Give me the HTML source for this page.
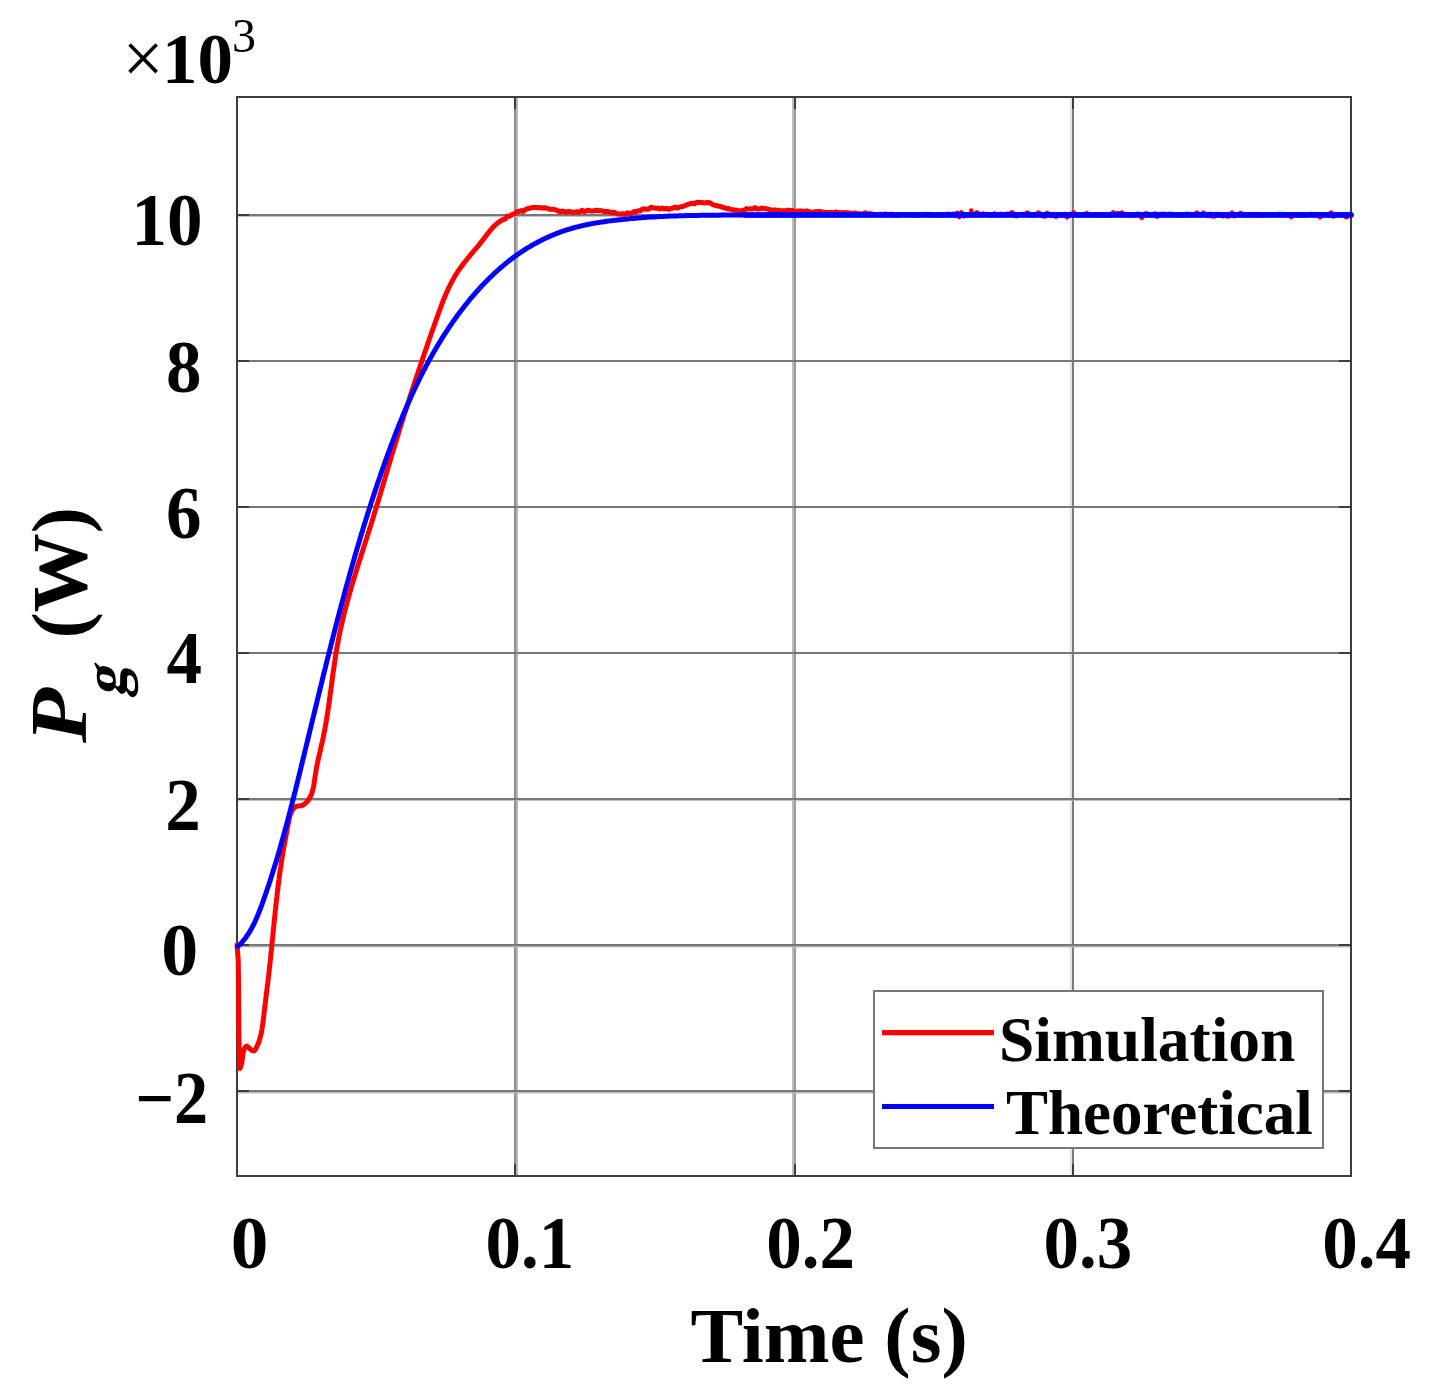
<!DOCTYPE html>
<html><head><meta charset="utf-8"><title>Pg response</title>
<style>
html,body{margin:0;padding:0;background:#fff;}
body{width:1437px;height:1391px;overflow:hidden;}
svg{display:block;}
text{font-family:"Liberation Serif",serif;fill:#000;}
.b{font-weight:bold;}
</style></head><body>
<svg width="1437" height="1391" viewBox="0 0 1437 1391">
<rect width="1437" height="1391" fill="#fff"/>
<!-- grid -->
<g fill="#8e8e8e">
<rect x="514" y="97" width="2" height="1079"/>
<rect x="794" y="97" width="2" height="1079" fill="#9a9a9a"/>
<rect x="1072" y="97" width="2" height="1079" fill="#7c7c7c"/>
</g>
<g fill="#b6b6b6">
<rect x="516" y="97" width="2" height="1079"/>
<rect x="792" y="97" width="2" height="1079" fill="#bcbcbc"/>
<rect x="1070" y="97" width="1.6" height="1079" fill="#dcdcdc"/>
</g>
<g fill="#787878">
<rect x="237" y="214" width="1114" height="2"/>
<rect x="237" y="360" width="1114" height="2"/>
<rect x="237" y="506" width="1114" height="2"/>
<rect x="237" y="652" width="1114" height="2"/>
<rect x="237" y="798" width="1114" height="2"/>
<rect x="237" y="944" width="1114" height="2"/>
<rect x="237" y="1090" width="1114" height="2"/>
</g>
<g fill="#b4b4b4">
<rect x="237" y="216" width="1114" height="0.8"/>
<rect x="237" y="946" width="1114" height="1.4"/>
<rect x="237" y="1092" width="1114" height="1.4"/>
<rect x="237" y="800" width="1114" height="0.8"/>
</g>
<!-- ticks -->
<g stroke="#3c3c3c" stroke-width="2" fill="none">
<path d="M237 215h12M237 361h12M237 507h12M237 653h12M237 799h12M237 945h12M237 1091h12"/>
<path d="M1351 215h-12M1351 361h-12M1351 507h-12M1351 653h-12M1351 799h-12M1351 945h-12M1351 1091h-12"/>
<path d="M515 1176v-12M795 1176v-12M1073 1176v-12M515 97v12M795 97v12M1073 97v12"/>
</g>
<!-- axes box -->
<rect x="237" y="97" width="1114" height="1079" fill="none" stroke="#3c3c3c" stroke-width="2"/>
<!-- data -->
<path d="M237.0 944.7 L238.2 960.0 L238.6 990.0 L238.8 1030.0 L239.3 1055.0 L240.0 1068.5 L240.9 1066.4 L241.5 1064.3 L241.9 1062.2 L242.2 1060.0 L242.4 1057.8 L242.7 1055.6 L243.0 1053.4 L243.5 1051.2 L244.3 1049.0 L245.4 1047.0 L246.7 1046.0 L248.2 1047.0 L250.0 1048.9 L252.1 1050.6 L254.0 1050.9 L255.3 1049.7 L256.4 1047.7 L257.3 1045.6 L258.2 1043.6 L259.0 1041.5 L259.6 1039.4 L260.2 1037.2 L260.8 1035.1 L261.3 1033.0 L261.7 1030.8 L262.1 1028.6 L262.4 1026.5 L262.7 1024.3 L263.0 1022.1 L263.3 1019.9 L263.5 1017.8 L263.8 1015.6 L264.0 1013.4 L264.3 1011.2 L264.6 1009.0 L264.8 1006.8 L265.1 1004.7 L265.4 1002.5 L265.6 1000.3 L265.9 998.1 L266.2 995.9 L266.4 993.8 L266.7 991.6 L267.0 989.4 L267.2 987.2 L267.5 985.0 L267.8 982.8 L268.0 980.7 L268.3 978.5 L268.5 976.3 L268.8 974.1 L269.0 971.9 L269.3 969.7 L269.5 967.6 L269.8 965.4 L270.0 963.2 L270.2 961.0 L270.5 958.8 L270.7 956.6 L270.9 954.5 L271.1 952.3 L271.4 950.1 L271.6 947.9 L271.8 945.7 L272.0 943.5 L272.2 941.3 L272.5 939.1 L272.7 937.0 L272.9 934.8 L273.1 932.6 L273.3 930.4 L273.5 928.2 L273.8 926.0 L274.0 923.8 L274.2 921.6 L274.4 919.5 L274.6 917.3 L274.9 915.1 L275.1 912.9 L275.3 910.7 L275.6 908.5 L275.8 906.3 L276.0 904.2 L276.3 902.0 L276.5 899.8 L276.8 897.6 L277.0 895.4 L277.3 893.2 L277.5 891.0 L277.8 888.9 L278.0 886.7 L278.3 884.5 L278.6 882.3 L278.9 880.1 L279.1 878.0 L279.4 875.8 L279.7 873.6 L280.0 871.4 L280.3 869.3 L280.7 867.1 L281.0 864.9 L281.3 862.7 L281.6 860.6 L282.0 858.4 L282.3 856.2 L282.7 854.0 L283.1 851.9 L283.4 849.7 L283.8 847.5 L284.2 845.4 L284.6 843.2 L285.0 841.0 L285.4 838.9 L285.8 836.7 L286.2 834.6 L286.6 832.4 L287.0 830.2 L287.4 828.1 L287.8 825.9 L288.2 823.8 L288.6 821.6 L289.1 819.5 L289.5 817.4 L290.1 815.2 L290.8 813.1 L291.8 811.1 L293.0 809.1 L294.5 807.4 L296.3 806.3 L298.5 805.9 L300.8 805.7 L302.9 805.1 L304.7 803.9 L306.4 802.4 L307.8 800.8 L309.0 799.0 L310.1 797.1 L311.0 795.2 L311.8 793.2 L312.4 791.1 L313.0 789.0 L313.5 786.8 L313.9 784.6 L314.3 782.4 L314.6 780.1 L314.9 777.9 L315.2 775.6 L315.6 773.4 L315.9 771.2 L316.3 769.0 L316.7 766.8 L317.1 764.6 L317.6 762.5 L318.0 760.3 L318.5 758.2 L319.0 756.1 L319.5 753.9 L320.0 751.8 L320.5 749.7 L320.9 747.6 L321.4 745.5 L321.9 743.4 L322.4 741.3 L322.8 739.2 L323.3 737.0 L323.7 734.9 L324.1 732.8 L324.6 730.6 L325.0 728.5 L325.3 726.4 L325.7 724.2 L326.1 722.1 L326.5 719.9 L326.8 717.7 L327.1 715.6 L327.5 713.4 L327.8 711.3 L328.1 709.1 L328.5 706.9 L328.8 704.7 L329.1 702.6 L329.4 700.4 L329.7 698.2 L330.0 696.0 L330.3 693.8 L330.6 691.6 L330.9 689.5 L331.2 687.3 L331.5 685.1 L331.8 682.9 L332.1 680.7 L332.3 678.5 L332.6 676.3 L332.9 674.1 L333.2 671.9 L333.6 669.8 L333.9 667.6 L334.2 665.4 L334.5 663.2 L334.8 661.0 L335.2 658.8 L335.5 656.6 L335.8 654.5 L336.2 652.3 L336.5 650.1 L336.9 647.9 L337.3 645.8 L337.7 643.6 L338.1 641.4 L338.5 639.3 L338.9 637.1 L339.3 634.9 L339.8 632.8 L340.2 630.6 L340.7 628.5 L341.2 626.3 L341.7 624.2 L342.2 622.1 L342.7 619.9 L343.2 617.8 L343.7 615.7 L344.2 613.5 L344.7 611.4 L345.3 609.3 L345.8 607.2 L346.4 605.0 L347.0 602.9 L347.5 600.8 L348.1 598.7 L348.7 596.6 L349.3 594.5 L349.9 592.3 L350.5 590.2 L351.1 588.1 L351.7 586.0 L352.3 583.9 L353.0 581.8 L353.6 579.7 L354.2 577.6 L354.9 575.5 L355.5 573.4 L356.2 571.3 L356.8 569.2 L357.5 567.1 L358.1 565.0 L358.8 562.9 L359.4 560.8 L360.1 558.7 L360.8 556.6 L361.4 554.5 L362.1 552.5 L362.8 550.4 L363.4 548.3 L364.1 546.2 L364.8 544.1 L365.4 542.0 L366.1 539.9 L366.8 537.8 L367.4 535.7 L368.1 533.6 L368.8 531.5 L369.4 529.4 L370.1 527.3 L370.8 525.2 L371.4 523.1 L372.1 521.0 L372.7 518.9 L373.4 516.8 L374.0 514.7 L374.7 512.6 L375.3 510.5 L376.0 508.4 L376.6 506.3 L377.2 504.2 L377.9 502.1 L378.5 500.0 L379.1 497.9 L379.8 495.8 L380.4 493.7 L381.0 491.6 L381.6 489.5 L382.3 487.4 L382.9 485.3 L383.5 483.2 L384.1 481.1 L384.8 479.0 L385.4 476.9 L386.0 474.7 L386.6 472.6 L387.3 470.5 L387.9 468.4 L388.5 466.3 L389.1 464.2 L389.8 462.1 L390.4 460.0 L391.0 457.9 L391.6 455.8 L392.3 453.7 L392.9 451.6 L393.5 449.5 L394.2 447.4 L394.8 445.3 L395.4 443.1 L396.1 441.0 L396.7 438.9 L397.4 436.8 L398.0 434.7 L398.6 432.6 L399.3 430.5 L399.9 428.4 L400.6 426.3 L401.3 424.2 L401.9 422.1 L402.6 420.0 L403.2 417.9 L403.9 415.9 L404.5 413.8 L405.2 411.7 L405.9 409.6 L406.6 407.5 L407.2 405.4 L407.9 403.3 L408.6 401.2 L409.2 399.1 L409.9 397.0 L410.6 394.9 L411.3 392.8 L412.0 390.7 L412.7 388.7 L413.3 386.6 L414.0 384.5 L414.7 382.4 L415.4 380.3 L416.1 378.2 L416.8 376.1 L417.5 374.0 L418.2 372.0 L418.9 369.9 L419.6 367.8 L420.3 365.7 L421.0 363.6 L421.7 361.5 L422.4 359.5 L423.1 357.4 L423.8 355.3 L424.5 353.2 L425.2 351.1 L426.0 349.1 L426.7 347.0 L427.4 344.9 L428.1 342.8 L428.8 340.8 L429.5 338.7 L430.3 336.6 L431.0 334.5 L431.7 332.4 L432.4 330.4 L433.2 328.3 L433.9 326.2 L434.6 324.2 L435.4 322.1 L436.1 320.0 L436.8 317.9 L437.6 315.9 L438.3 313.8 L439.0 311.7 L439.8 309.7 L440.6 307.6 L441.3 305.6 L442.1 303.5 L442.9 301.5 L443.7 299.4 L444.6 297.4 L445.4 295.4 L446.3 293.4 L447.1 291.4 L448.0 289.4 L449.0 287.4 L449.9 285.5 L450.9 283.5 L451.9 281.6 L453.0 279.7 L454.0 277.8 L455.1 275.9 L456.3 274.0 L457.4 272.2 L458.6 270.4 L459.9 268.6 L461.2 266.8 L462.5 265.0 L463.8 263.2 L465.2 261.5 L466.6 259.8 L468.0 258.0 L469.4 256.3 L470.8 254.6 L472.2 252.9 L473.7 251.2 L475.1 249.5 L476.5 247.8 L478.0 246.1 L479.4 244.4 L480.8 242.6 L482.1 240.9 L483.5 239.1 L484.8 237.4 L486.1 235.6 L487.5 233.9 L488.8 232.2 L490.2 230.5 L491.6 228.9 L493.0 227.3 L494.5 225.8 L496.1 224.3 L497.8 222.9 L499.5 221.7 L501.3 220.5 L503.3 219.3 L505.2 219.2 L507.2 216.1 L509.2 216.4 L511.2 215.0 L513.2 214.1 L515.2 213.3 L517.2 211.6 L519.2 211.5 L521.2 210.5 L523.3 211.6 L525.3 209.6 L527.4 208.8 L529.5 208.3 L531.7 207.7 L533.8 207.3 L536.0 207.4 L538.3 207.7 L540.5 207.5 L542.7 208.1 L545.0 207.8 L547.2 208.2 L549.4 209.3 L551.5 209.2 L553.6 209.3 L555.7 209.9 L557.8 210.7 L559.9 211.8 L562.0 211.1 L564.2 211.4 L566.4 212.1 L568.6 211.4 L570.8 211.7 L573.0 212.3 L575.2 212.1 L577.4 211.8 L579.7 211.9 L581.9 210.2 L584.1 211.8 L586.3 210.8 L588.5 210.3 L590.7 211.0 L592.9 211.1 L595.0 210.5 L597.2 210.2 L599.4 210.7 L601.6 210.7 L603.8 211.5 L605.9 211.5 L608.1 211.6 L610.3 212.4 L612.5 212.3 L614.7 212.5 L616.8 213.6 L619.0 214.0 L621.2 213.9 L623.3 213.8 L625.5 214.2 L627.6 212.7 L629.7 213.8 L631.9 213.2 L634.0 211.6 L636.1 211.8 L638.3 210.7 L640.4 210.8 L642.5 209.0 L644.7 208.9 L646.8 209.2 L648.9 209.0 L651.1 207.2 L653.3 207.8 L655.4 208.2 L657.6 207.9 L659.8 209.1 L662.0 208.0 L664.2 208.9 L666.4 208.3 L668.6 209.3 L670.8 208.5 L673.0 208.1 L675.2 207.1 L677.3 208.1 L679.5 207.2 L681.7 206.6 L683.8 206.2 L686.0 205.3 L688.1 204.3 L690.3 203.7 L692.5 203.2 L694.6 203.8 L696.7 202.2 L698.9 202.4 L701.0 202.4 L703.2 202.7 L705.3 203.0 L707.4 202.5 L709.6 202.7 L711.7 204.0 L713.8 205.1 L716.0 205.5 L718.1 206.0 L720.3 206.4 L722.4 207.3 L724.5 207.7 L726.7 208.8 L728.8 208.6 L731.0 209.5 L733.2 209.7 L735.3 210.2 L737.5 210.2 L739.7 211.2 L741.9 210.6 L744.1 210.4 L746.3 208.6 L748.5 209.1 L750.7 208.7 L752.8 209.0 L755.0 207.6 L757.2 209.1 L759.4 209.1 L761.6 208.1 L763.8 208.4 L766.0 208.7 L768.2 209.3 L770.4 209.8 L772.6 210.6 L774.8 209.8 L777.0 210.4 L779.2 210.2 L781.4 211.1 L783.6 210.7 L785.8 211.1 L788.0 210.1 L790.2 210.6 L792.4 210.5 L794.6 211.6 L796.8 211.3 L799.0 211.0 L801.1 211.0 L803.3 211.5 L805.5 211.1 L807.7 211.1 L809.9 211.8 L812.1 212.8 L814.3 211.7 L816.5 211.7 L818.7 211.5 L820.9 211.5 L823.1 212.4 L825.3 212.6 L827.5 212.4 L829.7 212.6 L831.9 212.6 L834.1 212.7 L836.3 212.0 L838.5 212.6 L840.7 212.9 L842.9 212.6 L845.1 212.8 L847.3 212.7 L849.5 213.0 L851.7 213.6 L853.9 213.1 L856.1 213.3 L858.3 213.8 L860.4 213.8 L862.6 214.4 L864.8 212.7 L867.0 214.1 L869.2 213.6 L871.4 213.9 L873.6 214.3 L875.8 214.5 L878.0 214.5 L880.2 214.2 L882.4 214.9 L884.6 214.1 L886.8 214.2 L889.0 214.7 L891.2 214.1 L893.4 215.4 L895.6 214.9 L897.8 215.5 L900.0 214.5 L902.0 214.5 L904.2 214.8 L906.4 215.0 L908.6 214.4 L910.8 214.9 L913.0 214.7 L915.2 215.4 L917.4 214.4 L919.6 215.2 L921.8 214.4 L924.0 214.3 L926.2 214.4 L928.4 214.2 L930.6 214.8 L932.8 215.2 L935.0 214.8 L937.2 215.0 L939.4 215.4 L941.6 214.8 L943.8 214.8 L946.0 214.6 L948.2 214.0 L950.4 215.0 L952.6 213.9 L954.8 215.0 L957.0 213.1 L959.2 216.8 L961.4 212.7 L963.6 215.9 L965.8 214.9 L968.0 214.4 L970.2 214.6 L972.4 214.7 L974.6 214.6 L976.8 212.6 L979.0 214.3 L981.2 214.6 L983.4 213.7 L985.6 214.6 L987.8 214.2 L990.0 215.2 L992.2 215.3 L994.4 213.8 L996.6 214.8 L998.8 214.6 L1001.0 214.2 L1003.2 214.9 L1005.4 214.5 L1007.6 213.9 L1009.8 214.6 L1012.0 212.6 L1014.2 214.7 L1016.4 216.1 L1018.6 215.0 L1020.8 215.0 L1023.0 214.2 L1025.2 214.4 L1027.4 212.7 L1029.6 214.4 L1031.8 215.5 L1034.0 214.8 L1036.2 214.2 L1038.4 212.7 L1040.6 214.7 L1042.8 215.7 L1045.0 216.2 L1047.2 213.2 L1049.4 214.9 L1051.6 214.7 L1053.8 215.7 L1056.0 216.5 L1058.2 215.0 L1060.4 214.8 L1062.6 215.0 L1064.8 214.2 L1067.0 217.1 L1069.2 214.6 L1071.4 214.7 L1073.6 212.7 L1075.8 214.4 L1078.0 215.0 L1080.2 215.1 L1082.4 215.0 L1084.6 215.2 L1086.8 213.4 L1089.0 214.7 L1091.2 215.1 L1093.4 215.0 L1095.6 214.7 L1097.8 215.0 L1100.0 215.3 L1102.2 214.8 L1104.4 214.5 L1106.6 215.0 L1108.8 215.6 L1111.0 214.6 L1113.2 212.7 L1115.4 214.6 L1117.6 213.3 L1119.8 213.9 L1122.0 212.9 L1124.2 215.2 L1126.4 214.3 L1128.6 215.4 L1130.8 214.9 L1133.0 214.5 L1135.2 214.8 L1137.4 214.0 L1139.6 214.4 L1141.8 217.5 L1144.0 214.3 L1146.2 213.5 L1148.4 214.7 L1150.6 215.1 L1152.8 214.7 L1155.0 213.7 L1157.2 216.4 L1159.4 214.8 L1161.6 214.2 L1163.8 214.1 L1166.0 214.9 L1168.2 214.4 L1170.4 213.9 L1172.6 214.4 L1174.8 215.1 L1177.0 214.5 L1179.2 215.1 L1181.4 215.4 L1183.6 214.7 L1185.8 214.2 L1188.0 214.1 L1190.2 214.7 L1192.4 215.1 L1194.6 214.8 L1196.8 212.9 L1199.0 214.5 L1201.2 214.8 L1203.4 212.9 L1205.6 214.6 L1207.8 215.7 L1210.0 214.0 L1212.2 216.1 L1214.4 216.2 L1216.6 214.3 L1218.8 215.0 L1221.0 214.7 L1223.2 216.0 L1225.4 215.1 L1227.6 216.4 L1229.8 215.1 L1232.0 212.9 L1234.2 216.0 L1236.4 215.2 L1238.6 214.4 L1240.8 213.3 L1243.0 215.1 L1245.2 214.4 L1247.4 215.4 L1249.6 214.4 L1251.8 214.2 L1254.0 215.4 L1256.2 214.2 L1258.4 214.8 L1260.6 215.4 L1262.8 214.8 L1265.0 214.7 L1267.2 214.7 L1269.4 215.1 L1271.6 214.3 L1273.8 215.0 L1276.0 215.0 L1278.2 214.1 L1280.4 214.5 L1282.6 214.3 L1284.8 215.0 L1287.0 214.5 L1289.2 214.8 L1291.4 216.8 L1293.6 215.2 L1295.8 214.4 L1298.0 214.7 L1300.2 215.6 L1302.4 214.3 L1304.6 215.4 L1306.8 214.4 L1309.0 214.4 L1311.2 214.2 L1313.4 215.0 L1315.6 214.8 L1317.8 214.2 L1320.0 217.0 L1322.2 214.8 L1324.4 215.0 L1326.6 214.4 L1328.8 215.5 L1331.0 212.9 L1333.2 216.2 L1335.4 214.5 L1337.6 214.6 L1339.8 215.1 L1342.0 214.6 L1344.2 215.2 L1346.4 217.0 L1348.6 215.3 L1350.8 215.1" fill="none" stroke="#ff0000" stroke-width="5" stroke-linejoin="round" stroke-linecap="round"/>
<circle cx="971.3" cy="210.6" r="2.4" fill="#ff0000"/>
<path d="M237.9 946.3 L239.0 945.3 L240.1 944.2 L241.1 943.2 L242.1 942.1 L243.0 941.0 L244.0 939.8 L244.9 938.7 L245.8 937.5 L246.6 936.3 L247.5 935.1 L248.3 933.9 L249.1 932.7 L249.8 931.4 L250.6 930.2 L251.3 928.9 L252.0 927.6 L252.7 926.3 L253.4 925.0 L254.0 923.7 L254.7 922.3 L255.3 921.0 L255.9 919.6 L256.5 918.3 L257.1 916.9 L257.7 915.5 L258.2 914.1 L258.8 912.8 L259.3 911.4 L259.9 910.0 L260.4 908.6 L260.9 907.2 L261.5 905.7 L262.0 904.3 L262.5 902.9 L263.0 901.5 L263.5 900.1 L264.0 898.7 L264.5 897.3 L265.0 895.8 L265.5 894.4 L266.0 893.0 L266.5 891.6 L266.9 890.2 L267.4 888.7 L267.9 887.3 L268.4 885.9 L268.9 884.5 L269.3 883.0 L269.8 881.6 L270.3 880.2 L270.7 878.8 L271.2 877.3 L271.6 875.9 L272.1 874.5 L272.5 873.1 L273.0 871.6 L273.4 870.2 L273.9 868.8 L274.3 867.3 L274.8 865.9 L275.2 864.5 L275.6 863.0 L276.1 861.6 L276.5 860.2 L276.9 858.7 L277.4 857.3 L277.8 855.9 L278.2 854.4 L278.6 853.0 L279.1 851.6 L279.5 850.1 L279.9 848.7 L280.3 847.2 L280.7 845.8 L281.1 844.4 L281.5 842.9 L281.9 841.5 L282.3 840.0 L282.7 838.6 L283.1 837.2 L283.5 835.7 L283.9 834.3 L284.3 832.8 L284.7 831.4 L285.1 829.9 L285.5 828.5 L285.9 827.0 L286.3 825.6 L286.7 824.2 L287.1 822.7 L287.4 821.3 L287.8 819.8 L288.2 818.4 L288.6 816.9 L289.0 815.5 L289.3 814.0 L289.7 812.6 L290.1 811.1 L290.5 809.7 L290.8 808.2 L291.2 806.8 L291.6 805.3 L292.0 803.9 L292.3 802.4 L292.7 801.0 L293.1 799.5 L293.4 798.1 L293.8 796.6 L294.2 795.2 L294.5 793.7 L294.9 792.3 L295.3 790.8 L295.6 789.4 L296.0 787.9 L296.3 786.5 L296.7 785.0 L297.1 783.5 L297.4 782.1 L297.8 780.6 L298.1 779.2 L298.5 777.7 L298.8 776.3 L299.2 774.8 L299.6 773.4 L299.9 771.9 L300.3 770.5 L300.6 769.0 L301.0 767.6 L301.3 766.1 L301.7 764.6 L302.1 763.2 L302.4 761.7 L302.8 760.3 L303.1 758.8 L303.5 757.4 L303.8 755.9 L304.2 754.5 L304.5 753.0 L304.9 751.5 L305.2 750.1 L305.6 748.6 L305.9 747.2 L306.3 745.7 L306.7 744.3 L307.0 742.8 L307.4 741.4 L307.7 739.9 L308.1 738.4 L308.4 737.0 L308.8 735.5 L309.1 734.1 L309.5 732.6 L309.8 731.2 L310.2 729.7 L310.5 728.3 L310.9 726.8 L311.2 725.3 L311.6 723.9 L311.9 722.4 L312.3 721.0 L312.6 719.5 L313.0 718.1 L313.4 716.6 L313.7 715.2 L314.1 713.7 L314.4 712.2 L314.8 710.8 L315.1 709.3 L315.5 707.9 L315.8 706.4 L316.2 705.0 L316.5 703.5 L316.9 702.1 L317.2 700.6 L317.6 699.1 L318.0 697.7 L318.3 696.2 L318.7 694.8 L319.0 693.3 L319.4 691.9 L319.7 690.4 L320.1 689.0 L320.4 687.5 L320.8 686.0 L321.2 684.6 L321.5 683.1 L321.9 681.7 L322.2 680.2 L322.6 678.8 L322.9 677.3 L323.3 675.9 L323.7 674.4 L324.0 673.0 L324.4 671.5 L324.7 670.0 L325.1 668.6 L325.5 667.1 L325.8 665.7 L326.2 664.2 L326.5 662.8 L326.9 661.3 L327.3 659.9 L327.6 658.4 L328.0 657.0 L328.4 655.5 L328.7 654.1 L329.1 652.6 L329.5 651.2 L329.8 649.7 L330.2 648.3 L330.6 646.8 L330.9 645.3 L331.3 643.9 L331.7 642.4 L332.0 641.0 L332.4 639.5 L332.8 638.1 L333.1 636.6 L333.5 635.2 L333.9 633.7 L334.3 632.3 L334.6 630.8 L335.0 629.4 L335.4 627.9 L335.7 626.5 L336.1 625.0 L336.5 623.6 L336.9 622.1 L337.3 620.7 L337.6 619.2 L338.0 617.8 L338.4 616.3 L338.8 614.9 L339.2 613.4 L339.5 612.0 L339.9 610.5 L340.3 609.1 L340.7 607.7 L341.1 606.2 L341.4 604.8 L341.8 603.3 L342.2 601.9 L342.6 600.4 L343.0 599.0 L343.4 597.5 L343.8 596.1 L344.2 594.6 L344.6 593.2 L344.9 591.7 L345.3 590.3 L345.7 588.9 L346.1 587.4 L346.5 586.0 L346.9 584.5 L347.3 583.1 L347.7 581.6 L348.1 580.2 L348.5 578.8 L348.9 577.3 L349.3 575.9 L349.7 574.4 L350.1 573.0 L350.5 571.5 L350.9 570.1 L351.3 568.7 L351.8 567.2 L352.2 565.8 L352.6 564.3 L353.0 562.9 L353.4 561.5 L353.8 560.0 L354.2 558.6 L354.6 557.1 L355.0 555.7 L355.5 554.3 L355.9 552.8 L356.3 551.4 L356.7 550.0 L357.1 548.5 L357.6 547.1 L358.0 545.6 L358.4 544.2 L358.8 542.8 L359.3 541.3 L359.7 539.9 L360.1 538.5 L360.5 537.0 L361.0 535.6 L361.4 534.2 L361.8 532.7 L362.3 531.3 L362.7 529.9 L363.2 528.4 L363.6 527.0 L364.0 525.6 L364.5 524.2 L364.9 522.7 L365.4 521.3 L365.8 519.9 L366.2 518.4 L366.7 517.0 L367.1 515.6 L367.6 514.1 L368.0 512.7 L368.5 511.3 L368.9 509.9 L369.4 508.4 L369.9 507.0 L370.3 505.6 L370.8 504.2 L371.2 502.7 L371.7 501.3 L372.2 499.9 L372.6 498.5 L373.1 497.0 L373.6 495.6 L374.0 494.2 L374.5 492.8 L375.0 491.4 L375.4 489.9 L375.9 488.5 L376.4 487.1 L376.9 485.7 L377.3 484.3 L377.8 482.8 L378.3 481.4 L378.8 480.0 L379.3 478.6 L379.8 477.2 L380.3 475.7 L380.7 474.3 L381.2 472.9 L381.7 471.5 L382.2 470.1 L382.7 468.7 L383.2 467.3 L383.7 465.8 L384.2 464.4 L384.7 463.0 L385.2 461.6 L385.7 460.2 L386.2 458.8 L386.7 457.4 L387.2 456.0 L387.8 454.5 L388.3 453.1 L388.8 451.7 L389.3 450.3 L389.8 448.9 L390.3 447.5 L390.9 446.1 L391.4 444.7 L391.9 443.3 L392.5 441.9 L393.0 440.5 L393.5 439.1 L394.1 437.7 L394.6 436.3 L395.1 434.9 L395.7 433.5 L396.2 432.1 L396.8 430.7 L397.3 429.3 L397.9 427.9 L398.4 426.5 L399.0 425.1 L399.5 423.7 L400.1 422.3 L400.7 421.0 L401.2 419.6 L401.8 418.2 L402.4 416.8 L402.9 415.4 L403.5 414.0 L404.1 412.7 L404.7 411.3 L405.3 409.9 L405.9 408.5 L406.5 407.1 L407.1 405.8 L407.6 404.4 L408.3 403.0 L408.9 401.7 L409.5 400.3 L410.1 398.9 L410.7 397.6 L411.3 396.2 L411.9 394.8 L412.5 393.5 L413.2 392.1 L413.8 390.8 L414.4 389.4 L415.1 388.0 L415.7 386.7 L416.4 385.3 L417.0 384.0 L417.7 382.6 L418.3 381.3 L419.0 380.0 L419.6 378.6 L420.3 377.3 L421.0 375.9 L421.6 374.6 L422.3 373.3 L423.0 371.9 L423.7 370.6 L424.4 369.3 L425.1 368.0 L425.7 366.6 L426.4 365.3 L427.2 364.0 L427.9 362.7 L428.6 361.4 L429.3 360.1 L430.0 358.8 L430.7 357.5 L431.5 356.2 L432.2 354.9 L432.9 353.6 L433.7 352.3 L434.4 351.0 L435.2 349.7 L435.9 348.4 L436.7 347.1 L437.5 345.8 L438.2 344.5 L439.0 343.2 L439.8 342.0 L440.6 340.7 L441.3 339.4 L442.1 338.2 L442.9 336.9 L443.7 335.6 L444.5 334.4 L445.4 333.1 L446.2 331.9 L447.0 330.6 L447.8 329.4 L448.6 328.1 L449.5 326.9 L450.3 325.6 L451.2 324.4 L452.0 323.2 L452.9 321.9 L453.7 320.7 L454.6 319.5 L455.5 318.3 L456.4 317.0 L457.2 315.8 L458.1 314.6 L459.0 313.4 L459.9 312.2 L460.8 311.0 L461.7 309.8 L462.7 308.6 L463.6 307.4 L464.5 306.2 L465.4 305.0 L466.4 303.9 L467.3 302.7 L468.3 301.5 L469.2 300.3 L470.2 299.2 L471.1 298.0 L472.1 296.9 L473.1 295.7 L474.1 294.6 L475.1 293.4 L476.1 292.3 L477.1 291.2 L478.1 290.1 L479.1 288.9 L480.1 287.8 L481.1 286.7 L482.1 285.6 L483.2 284.5 L484.2 283.4 L485.3 282.4 L486.3 281.3 L487.4 280.2 L488.4 279.1 L489.5 278.1 L490.6 277.0 L491.7 276.0 L492.7 275.0 L493.8 273.9 L494.9 272.9 L496.0 271.9 L497.1 270.9 L498.3 269.9 L499.4 268.9 L500.5 267.9 L501.6 266.9 L502.8 266.0 L503.9 265.0 L505.1 264.1 L506.2 263.1 L507.4 262.2 L508.6 261.2 L509.7 260.3 L510.9 259.4 L512.1 258.5 L513.3 257.6 L514.5 256.7 L515.7 255.9 L516.9 255.0 L518.1 254.1 L519.4 253.3 L520.6 252.4 L521.8 251.6 L523.1 250.8 L524.3 250.0 L525.6 249.2 L526.8 248.4 L528.1 247.6 L529.4 246.9 L530.7 246.1 L531.9 245.3 L533.2 244.6 L534.5 243.9 L535.8 243.2 L537.1 242.5 L538.5 241.8 L539.8 241.1 L541.1 240.4 L542.5 239.7 L543.8 239.1 L545.1 238.5 L546.5 237.8 L547.9 237.2 L549.2 236.6 L550.6 236.0 L552.0 235.4 L553.3 234.9 L554.7 234.3 L556.1 233.7 L557.5 233.2 L558.9 232.7 L560.3 232.2 L561.7 231.7 L563.1 231.2 L564.6 230.7 L566.0 230.2 L567.4 229.7 L568.8 229.3 L570.3 228.9 L571.7 228.4 L573.2 228.0 L574.6 227.6 L576.0 227.2 L577.5 226.8 L578.9 226.5 L580.4 226.1 L581.9 225.8 L583.3 225.4 L584.8 225.1 L586.2 224.8 L587.7 224.5 L589.2 224.2 L590.7 223.9 L592.1 223.6 L593.6 223.4 L595.1 223.1 L596.6 222.8 L598.0 222.6 L599.5 222.4 L601.0 222.1 L602.5 221.9 L604.0 221.7 L605.5 221.5 L607.0 221.3 L608.5 221.1 L609.9 220.9 L611.4 220.7 L612.9 220.5 L614.4 220.3 L615.9 220.2 L617.4 220.0 L618.9 219.8 L620.4 219.7 L621.9 219.5 L623.4 219.3 L624.9 219.2 L626.4 219.0 L627.8 218.9 L629.3 218.8 L630.8 218.6 L632.3 218.5 L633.8 218.4 L635.3 218.2 L636.8 218.1 L638.3 218.0 L639.8 217.9 L641.3 217.8 L642.8 217.6 L644.3 217.5 L645.8 217.4 L647.3 217.3 L648.8 217.2 L650.3 217.1 L651.8 217.1 L653.2 217.0 L654.7 216.9 L656.2 216.8 L657.7 216.7 L659.2 216.6 L660.7 216.6 L662.2 216.5 L663.7 216.4 L665.2 216.3 L666.7 216.3 L668.2 216.2 L669.7 216.1 L671.2 216.1 L672.7 216.0 L674.2 216.0 L675.7 215.9 L677.2 215.9 L678.7 215.8 L680.2 215.8 L681.7 215.7 L683.2 215.7 L684.7 215.7 L686.2 215.6 L687.7 215.6 L689.1 215.5 L690.6 215.5 L692.1 215.5 L693.6 215.5 L695.1 215.4 L696.6 215.4 L698.1 215.4 L699.6 215.3 L701.1 215.3 L702.6 215.3 L704.1 215.3 L705.6 215.3 L707.1 215.3 L708.6 215.2 L710.1 215.2 L711.6 215.2 L713.1 215.2 L714.6 215.2 L716.1 215.2 L717.6 215.2 L719.1 215.2 L720.6 215.2 L722.1 215.1 L723.6 215.1 L725.1 215.1 L726.6 215.1 L728.1 215.1 L729.6 215.1 L731.1 215.1 L732.6 215.1 L734.1 215.1 L735.6 215.1 L737.1 215.1 L738.6 215.1 L740.1 215.1 L741.6 215.1 L743.1 215.1 L744.6 215.1 L746.1 215.1 L747.6 215.1 L749.1 215.1 L750.6 215.1 L752.1 215.1 L753.6 215.1 L755.1 215.1 L756.5 215.1 L758.0 215.1 L759.5 215.1 L761.0 215.1 L762.5 215.1 L764.0 215.1 L765.5 215.1 L767.0 215.1 L768.5 215.1 L770.0 215.1 L771.5 215.1 L773.0 215.1 L774.5 215.1 L776.0 215.1 L777.5 215.1 L779.0 215.1 L780.5 215.1 L782.0 215.0 L783.5 215.0 L785.0 215.0 L786.5 215.0 L788.0 215.0 L789.5 215.0 L791.0 215.0 L792.5 214.9 L794.0 214.9 L795.5 214.9 L797.0 214.9 L798.5 214.9 L800.0 214.8 L900.0 214.7 L1351.0 214.7" fill="none" stroke="#0000ff" stroke-width="5" stroke-linejoin="round" stroke-linecap="round"/>
<path d="M745 215.05H1351" stroke="#0000ff" stroke-width="5.6" stroke-linecap="round" fill="none"/>
<!-- legend -->
<rect x="874" y="991" width="449" height="157" fill="#fff" stroke="#777" stroke-width="2"/>
<line x1="882" y1="1032.7" x2="994" y2="1032.7" stroke="#ff0000" stroke-width="5.2"/>
<line x1="882" y1="1106.5" x2="994" y2="1106.5" stroke="#0000ff" stroke-width="5.2"/>
<text class="b" x="999" y="1061.2" font-size="63.5">Simulation</text>
<text class="b" x="1006" y="1133.6" font-size="63">Theoretical</text>
<!-- y tick labels -->
<g class="b" font-size="71">
<text transform="translate(131.5,245) scale(1,1.03)">10</text>
<text transform="translate(166.1,391.5) scale(1,1.03)">8</text>
<text transform="translate(166,537.5) scale(1,1.03)">6</text>
<text transform="translate(166.4,683) scale(1,1.03)">4</text>
<text transform="translate(165.2,830) scale(1,1.03)">2</text>
<text transform="translate(161.3,975) scale(1.04,1.03)">0</text>
<text transform="translate(135.2,1122.6) scale(0.962,1.03)">−2</text>
</g>
<!-- x tick labels -->
<g class="b" font-size="71">
<text transform="translate(230.8,1268) scale(1.06,1.03)">0</text>
<text transform="translate(485.6,1268) scale(1,1.03)">0.1</text>
<text transform="translate(766.2,1268) scale(1,1.03)">0.2</text>
<text transform="translate(1043.4,1268) scale(1,1.03)">0.3</text>
<text transform="translate(1322.2,1268) scale(1,1.03)">0.4</text>
</g>
<!-- exponent -->
<text font-size="73" transform="translate(122.6,83) scale(1,1.001)">×</text>
<text class="b" font-size="71" transform="translate(161.9,83) scale(1,1.02)">10</text>
<text font-size="48" transform="translate(232,52) scale(1,1.001)">3</text>
<!-- x label -->
<text class="b" x="690.5" y="1362" font-size="79">Time (s)</text>
<!-- y label -->
<text class="b" font-style="italic" font-size="80" transform="translate(86,743.1) rotate(-90) scale(1.13,1)">P</text>
<text class="b" font-size="60" transform="translate(125.2,697.3) rotate(-90) skewX(-12)">g</text>
<text class="b" font-size="79" transform="translate(86,638.5) rotate(-90)">(W)</text>
</svg>
</body></html>
